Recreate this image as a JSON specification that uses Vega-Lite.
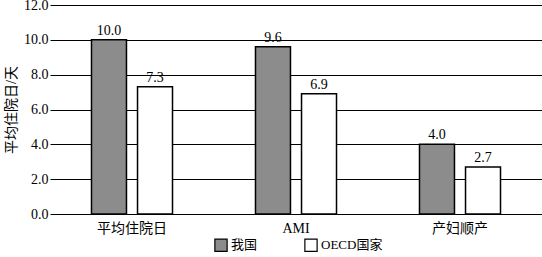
{
  "$schema": "https://vega.github.io/schema/vega-lite/v6.json",
  "autosize": "none",
  "width": 492,
  "height": 209,
  "padding": {"left": 50, "top": 5, "right": 0, "bottom": 43},
  "background": "white",
  "config": {
    "view": {"stroke": null},
    "font": "Liberation Serif, Noto Sans CJK SC",
    "axis": {"labelFont": "Liberation Serif, Noto Sans CJK SC", "titleFont": "Liberation Serif, Noto Sans CJK SC", "labelColor": "black", "titleColor": "black"},
    "legend": {"labelFont": "Liberation Serif, Noto Sans CJK SC"}
  },
  "data": {
    "values": [
      {"cat": "平均住院日", "group": "我国", "value": 10.0},
      {"cat": "平均住院日", "group": "OECD国家", "value": 7.3},
      {"cat": "AMI", "group": "我国", "value": 9.6},
      {"cat": "AMI", "group": "OECD国家", "value": 6.9},
      {"cat": "产妇顺产", "group": "我国", "value": 4.0},
      {"cat": "产妇顺产", "group": "OECD国家", "value": 2.7}
    ]
  },
  "encoding": {
    "x": {
      "field": "cat", "type": "nominal", "sort": ["平均住院日", "AMI", "产妇顺产"],
      "scale": {"paddingInner": 0.506, "paddingOuter": 0.253},
      "axis": {"title": null, "labelAngle": 0, "ticks": false, "domain": false, "labelFontSize": 14, "labelPadding": 7}
    },
    "xOffset": {
      "field": "group", "type": "nominal", "sort": ["我国", "OECD国家"],
      "scale": {"paddingInner": 0.24, "paddingOuter": 0}
    },
    "y": {
      "field": "value", "type": "quantitative",
      "scale": {"domain": [0, 12], "nice": false},
      "axis": {"title": "平均住院日/天", "values": [0, 2, 4, 6, 8, 10, 12], "format": ".1f", "domain": false, "ticks": false, "labelPadding": 2, "labelFontSize": 14, "titleFontSize": 14, "titleFontWeight": "normal", "titlePadding": 5, "gridColor": "black", "gridOpacity": 1, "gridWidth": 1}
    }
  },
  "layer": [
    {
      "mark": {"type": "bar", "stroke": "black", "strokeWidth": 1.5},
      "encoding": {
        "fill": {
          "field": "group", "type": "nominal", "sort": ["我国", "OECD国家"],
          "scale": {"domain": ["我国", "OECD国家"], "range": ["#8c8c8c", "#ffffff"]},
          "legend": {"title": null, "orient": "none", "direction": "horizontal", "legendX": 164, "legendY": 233, "symbolType": "square", "symbolSize": 150, "symbolStrokeColor": "black", "symbolStrokeWidth": 1.2, "labelFontSize": 13, "columnPadding": 44, "labelOffset": 3, "labelColor": "black"}
        }
      }
    },
    {
      "mark": {"type": "text", "dy": -9, "fontSize": 14, "color": "black"},
      "encoding": {
        "text": {"field": "value", "type": "quantitative", "format": ".1f"}
      }
    }
  ]
}
